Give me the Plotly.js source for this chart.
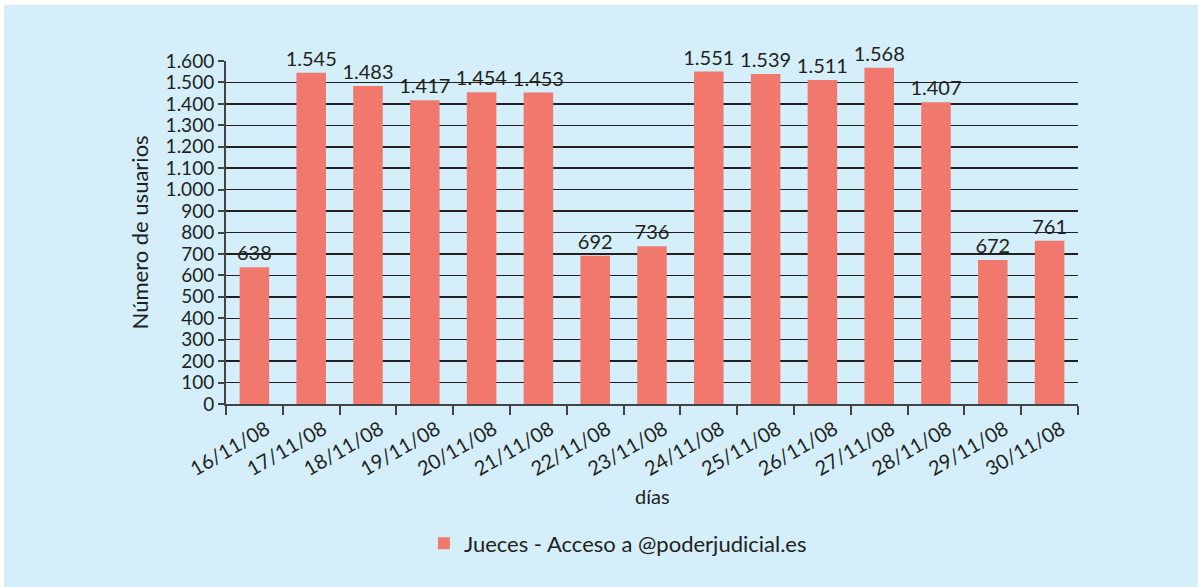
<!DOCTYPE html>
<html><head><meta charset="utf-8">
<script src="https://cdn.plot.ly/plotly-3.0.1.min.js"></script>
<style>
html,body{margin:0;padding:0;background:#ffffff;overflow:hidden;}
#chart{position:absolute;left:4px;top:5px;width:1194px;height:582px;}
</style></head>
<body><div id="chart"></div>
<script>
const days = ["16/11/08","17/11/08","18/11/08","19/11/08","20/11/08","21/11/08","22/11/08","23/11/08","24/11/08","25/11/08","26/11/08","27/11/08","28/11/08","29/11/08","30/11/08"];
const usuarios = [638,1545,1483,1417,1454,1453,692,736,1551,1539,1511,1568,1407,672,761];
const seriesName = "Jueces - Acceso a @poderjudicial.es";
const xTitle = "días";
const yTitle = "Número de usuarios";

const fam = "Lato, 'Open Sans', sans-serif";
const col = "#231f20";
Plotly.newPlot("chart",[{
  type:"bar", x:days, y:usuarios, name:seriesName,
  marker:{color:"#f0786c"}, width:0.52,
  texttemplate:"%{y:,.0f}", textposition:"outside", cliponaxis:false, constraintext:"none",
  textfont:{family:fam,size:20,color:col}
}],{
  width:1194, height:582,
  separators:",.",
  paper_bgcolor:"#d4eefa", plot_bgcolor:"#d4eefa",
  font:{family:fam,size:18,color:col},
  margin:{l:222,r:120,t:56,b:183},
  showlegend:true,
  legend:{orientation:"h",x:0.46,xanchor:"center",y:-0.345,yanchor:"top",font:{family:fam,size:22,color:col}},
  xaxis:{type:"category",automargin:false,tickangle:-30,tickson:"boundaries",ticks:"outside",ticklen:9,tickwidth:2,tickcolor:"#444",
    ticklabelstandoff:4, ticklabelshift:12,
    showline:true,linecolor:"#444",linewidth:2,showgrid:false,
    tickfont:{family:fam,size:20,color:col}},
  yaxis:{automargin:false,range:[0,1600],dtick:100,tickformat:",.0f",ticks:"outside",ticklen:6,tickwidth:2,tickcolor:"#444",
    showline:true,linecolor:"#444",linewidth:2,showgrid:true,gridcolor:col,gridwidth:1.5,zeroline:false,
    tickfont:{family:fam,size:19,color:col}},
  annotations:[
    {text:xTitle,xref:"paper",yref:"paper",x:0.5,y:-0.268,xanchor:"center",yanchor:"middle",showarrow:false,font:{family:fam,size:20,color:col}},
    {text:yTitle,xref:"paper",yref:"paper",x:-0.101,y:0.5,xanchor:"center",yanchor:"middle",textangle:-90,showarrow:false,font:{family:fam,size:22,color:col}}
  ],
  bargap:0.48
},{displayModeBar:false,staticPlot:true});
</script></body></html>
